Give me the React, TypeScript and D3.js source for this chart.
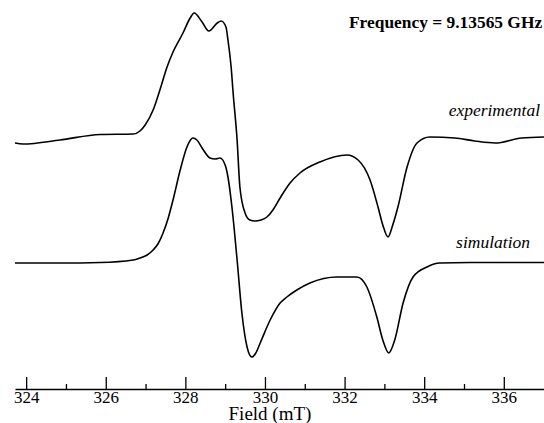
import React, { useEffect, useRef } from 'react';
import * as d3 from 'd3';

// field values (mT)
const expField = [
  323.72, 323.92, 324.85, 325.86, 326.69, 326.86, 326.99, 327.19, 327.36,
  327.54, 327.69, 327.94, 328.12, 328.22, 328.42, 328.59, 328.8, 328.9, 329.02,
  329.07, 329.15, 329.2, 329.3, 329.37, 329.5, 329.62, 329.75, 329.9, 330.05,
  330.2, 330.38, 330.63, 330.88, 331.38, 332.06, 332.34, 332.64, 332.84, 332.96,
  333.09, 333.21, 333.34, 333.57, 333.82, 334.14, 334.77, 335.27, 335.78, 336.45,
  337.01,
];
const expSignal = [
  -0.06, -0.07, -0.03, 0.025, 0.03, 0.06, 0.12, 0.27, 0.47,
  0.7, 0.85, 1.04, 1.19, 1.24, 1.15, 1.06, 1.14, 1.16, 1.1,
  0.97, 0.7, 0.44, -0.03, -0.5, -0.76, -0.83, -0.84, -0.83, -0.8,
  -0.73, -0.61, -0.46, -0.36, -0.25, -0.18, -0.23, -0.43, -0.7, -0.88,
  -1.0, -0.88, -0.7, -0.3, -0.06, 0.0, -0.01, -0.04, -0.06, -0.01,
  0.0,
];

const simField = [
  323.72, 324.85, 325.86, 326.69, 326.86, 327.04, 327.19, 327.31, 327.44, 327.57,
  327.69, 327.87, 328.04, 328.19, 328.29, 328.42, 328.62, 328.75, 328.87, 329.0,
  329.07, 329.17, 329.3, 329.42, 329.55, 329.67, 329.77, 329.88, 330.13, 330.38,
  330.55, 330.8, 331.13, 331.81, 332.31, 332.56, 332.81, 332.96, 333.11, 333.26,
  333.47, 333.72, 334.07, 334.39, 335.15, 337.01,
];
const simSignal = [
  0, 0, 0.005, 0.03, 0.05, 0.08, 0.13, 0.19, 0.3, 0.45,
  0.63, 0.93, 1.16, 1.25, 1.23, 1.15, 1.05, 1.04, 1.05, 0.98,
  0.86, 0.56, 0.03, -0.5, -0.84, -0.94, -0.9, -0.8, -0.57, -0.4,
  -0.34, -0.27, -0.2, -0.14, -0.14, -0.24, -0.54, -0.77, -0.9, -0.77,
  -0.4, -0.14, -0.04, 0, 0.005, 0.005,
];

const expOffset = 1.26;
const majorTicks = [324, 326, 328, 330, 332, 334, 336];
const minorTicks = [325, 327, 329, 331, 333, 335];

const W = 544;
const H = 423;
const serif = '"Liberation Serif", "DejaVu Serif", serif';

export default function App() {
  const ref = useRef<SVGSVGElement | null>(null);

  useEffect(() => {
    const svg = d3.select(ref.current);
    svg.selectAll('*').remove();

    const x = d3.scaleLinear().domain([323.72, 337.01]).range([15, 544]);
    const y = d3.scaleLinear().domain([-1.26, 2.63]).range([389, 0]);

    const line = d3
      .line<[number, number]>()
      .x(d => x(d[0]))
      .y(d => y(d[1]))
      .curve(d3.curveMonotoneX);

    const expData: [number, number][] = expField.map((f, i) => [f, expSignal[i] + expOffset]);
    const simData: [number, number][] = simField.map((f, i) => [f, simSignal[i]]);

    [expData, simData].forEach(data => {
      svg
        .append('path')
        .datum(data)
        .attr('d', line)
        .attr('fill', 'none')
        .attr('stroke', '#000')
        .attr('stroke-width', 1.6);
    });

    // axis with ticks pointing up
    const axis = svg.append('g').attr('transform', 'translate(0,389)');
    axis.call(
      d3.axisBottom(x).tickValues(majorTicks).tickSizeInner(-12).tickSizeOuter(0).tickPadding(2)
        .tickFormat(d3.format('d'))
    );
    axis
      .append('g')
      .call(d3.axisBottom(x).tickValues(minorTicks).tickSizeInner(-5).tickSizeOuter(0).tickFormat(() => ''))
      .select('.domain')
      .remove();
    axis.selectAll('path,line').attr('stroke', '#000').attr('stroke-width', 1.3);
    axis.selectAll('text').attr('fill', '#000').style('font-family', serif).style('font-size', '17px');

    svg
      .append('text')
      .attr('x', x(330) + 5)
      .attr('y', 420)
      .attr('text-anchor', 'middle')
      .style('font-family', serif)
      .style('font-size', '19px')
      .text('Field (mT)');

    svg
      .append('text')
      .attr('x', 349)
      .attr('y', 28)
      .style('font-family', serif)
      .style('font-size', '17.4px')
      .style('font-weight', 'bold')
      .text('Frequency = 9.13565 GHz');

    svg
      .append('text')
      .attr('x', 540)
      .attr('y', 116)
      .attr('text-anchor', 'end')
      .style('font-family', serif)
      .style('font-size', '17.5px')
      .style('font-style', 'italic')
      .text('experimental');

    svg
      .append('text')
      .attr('x', 530)
      .attr('y', 248)
      .attr('text-anchor', 'end')
      .style('font-family', serif)
      .style('font-size', '17.5px')
      .style('font-style', 'italic')
      .text('simulation');
  }, []);

  return (
    <svg
      ref={ref}
      width={W}
      height={H}
      style={{ position: 'absolute', left: 0, top: 0, background: '#fff' }}
    />
  );
}
